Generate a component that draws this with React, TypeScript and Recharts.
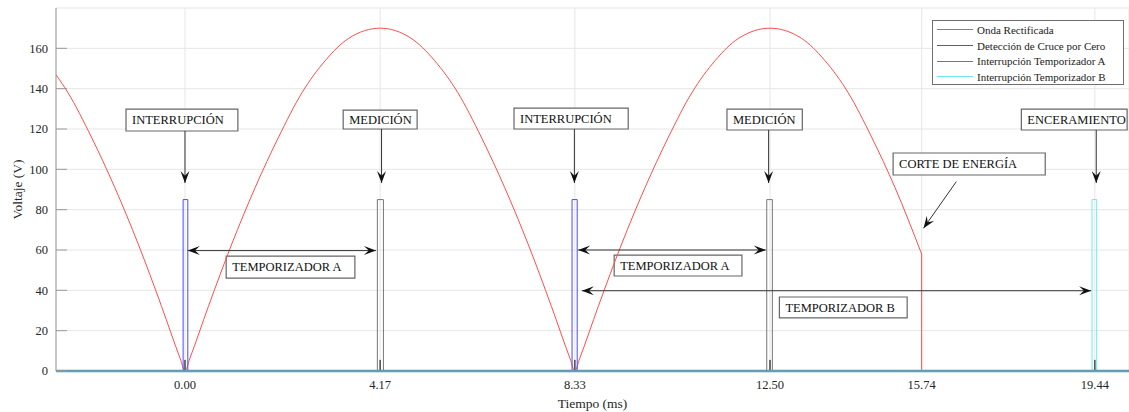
import { LineChart, Line, XAxis, YAxis, CartesianGrid, ReferenceArea, ReferenceLine, Legend } from "recharts";

const FONT = '"Liberation Serif", "Times New Roman", serif';

// Onda rectificada: tiempo (ms) / voltaje (V)
const waveTime = [
  -2.76, -2.5, -2.0, -1.5, -1.0, -0.5, -0.1, 0, 0.1, 0.5, 1.0, 1.5, 2.0, 2.5, 3.0, 3.5, 4.17,
  4.83, 5.33, 5.83, 6.33, 6.83, 7.33, 7.83, 8.23, 8.33, 8.43, 8.83, 9.33, 9.83, 10.33, 10.83,
  11.33, 11.83, 12.5, 13.17, 13.67, 14.17, 14.67, 15.17, 15.74,
];
const waveVolt = [
  147, 138, 116, 91, 63, 32, 6, 0, 6, 32, 63, 91, 116, 138, 154, 165, 170,
  165, 154, 138, 116, 91, 63, 32, 6, 0, 6, 32, 63, 91, 116, 138,
  154, 165, 170, 165, 154, 138, 116, 91, 58,
];

// corte de energía: caída a cero
const cutTime = [15.74, 15.74, 20.17];
const cutVolt = [58, 0, 0];

// Detección de cruce por cero
const zeroCrossTime = [-2.76, -0.04, -0.04, 0.06, 0.06, 8.27, 8.27, 8.38, 8.38, 20.17];
const zeroCrossVolt = [0, 0, 85, 85, 0, 0, 85, 85, 0, 0];

// Interrupción temporizador A
const timerATime = [-2.76, 4.11, 4.11, 4.24, 4.24, 12.43, 12.43, 12.55, 12.55, 20.17];
const timerAVolt = [0, 0, 85, 85, 0, 0, 85, 85, 0, 0];

// Interrupción temporizador B
const timerBTime = [-2.76, 19.38, 19.38, 19.48, 19.48, 20.17];
const timerBVolt = [0, 0, 85, 85, 0, 0];

// marcas cortas en la base
const markTime = [-2.76, 0, 0, 0, 4.17, 4.17, 4.17, 8.33, 8.33, 8.33, 12.5, 12.5, 12.5, 19.44, 19.44, 19.44, 20.17];
const markVolt = [0, 0, 5.5, 0, 0, 5.5, 0, 0, 5.5, 0, 0, 5.5, 0, 0, 5.5, 0, 0];

const xTicks = [0, 4.17, 8.33, 12.5, 15.74, 19.44];
const yTicks = [0, 20, 40, 60, 80, 100, 120, 140, 160];

const legendNames = ["Onda Rectificada", "Detección de Cruce por Cero", "Interrupción Temporizador A", "Interrupción Temporizador B"];
const legendColors = ["#ff4d4d", "#4a4aff", "#777", "#6ee8f0"];

// cuadros de texto (t1, t2, v1, v2)
const boxLabels = ["INTERRUPCIÓN", "MEDICIÓN", "TEMPORIZADOR A", "INTERRUPCIÓN", "MEDICIÓN", "TEMPORIZADOR A", "TEMPORIZADOR B", "CORTE DE ENERGÍA", "ENCERAMIENTO"];
const boxT1 = [-1.26, 3.38, 0.88, 7.03, 11.58, 9.17, 12.7, 15.13, 17.87];
const boxT2 = [1.13, 4.96, 3.63, 9.47, 13.19, 11.9, 15.43, 18.38, 20.13];
const boxV1 = [119.0, 120.0, 46.1, 120.0, 119.5, 47.1, 26.3, 97.2, 119.5];
const boxV2 = [129.9, 129.4, 57.0, 130.4, 129.9, 57.5, 36.7, 108.1, 129.9];

// flechas (inicio -> punta)
const arrowT1 = [0.0, 4.2, 0.06, 8.32, 12.47, 8.4, 8.48, 16.48, 19.47];
const arrowV1 = [119.0, 120.0, 59.7, 120.0, 119.5, 60.0, 39.8, 93.9, 119.5];
const arrowT2 = [0.0, 4.2, 4.08, 8.32, 12.47, 12.41, 19.36, 15.78, 19.47];
const arrowV2 = [93.2, 93.2, 59.7, 93.2, 93.2, 60.0, 39.8, 70.8, 93.2];
const arrowBoth = [false, false, true, false, false, true, true, false, false];

const toData = (ts: number[], vs: number[]) => ts.map((t, i) => ({ t, v: vs[i] }));
const waveData = toData(waveTime, waveVolt);
const cutData = toData(cutTime, cutVolt);
const zeroCrossData = toData(zeroCrossTime, zeroCrossVolt);
const timerAData = toData(timerATime, timerAVolt);
const timerBData = toData(timerBTime, timerBVolt);
const markData = toData(markTime, markVolt);

const head = (tx: number, ty: number, fx: number, fy: number) => {
  const len = Math.hypot(tx - fx, ty - fy) || 1;
  const ux = (tx - fx) / len;
  const uy = (ty - fy) / len;
  const L = 12;
  const W = 4.5;
  const bx = tx - ux * L;
  const by = ty - uy * L;
  const nx = tx - ux * L * 0.6;
  const ny = ty - uy * L * 0.6;
  return `M${tx},${ty} L${bx - uy * W},${by + ux * W} L${nx},${ny} L${bx + uy * W},${by - ux * W} Z`;
};

const Arrow = (props: any) => {
  const { x1, y1, x2, y2, both } = props;
  return (
    <g>
      <line x1={x1} y1={y1} x2={x2} y2={y2} stroke="#333" strokeWidth={1} />
      <path d={head(x2, y2, x1, y1)} fill="#111" />
      {both && <path d={head(x1, y1, x2, y2)} fill="#111" />}
    </g>
  );
};

const LegendBox = () => (
  <div
    style={{
      boxSizing: "border-box",
      width: 192,
      height: 65,
      border: "1px solid #6f6f6f",
      background: "#fff",
      padding: "1px 4px",
      fontFamily: FONT,
      fontSize: 11,
      color: "#222",
    }}
  >
    {legendNames.map((name, i) => (
      <div key={name} style={{ display: "flex", alignItems: "center", height: 15.7 }}>
        <span style={{ display: "inline-block", width: 36, borderTop: `1px solid ${legendColors[i]}`, marginRight: 4 }} />
        <span>{name}</span>
      </div>
    ))}
  </div>
);

export default function App() {
  return (
    <div style={{ position: "absolute", left: 0, top: 0, background: "#fff", fontFamily: FONT }}>
      <LineChart width={1129} height={412} margin={{ top: 8, right: 0, left: 0, bottom: 0 }}>
        <CartesianGrid stroke="#e6e6e6" />
        <XAxis
          type="number"
          dataKey="t"
          domain={[-2.756, 20.17]}
          allowDataOverflow
          ticks={xTicks}
          interval={0}
          tickFormatter={(v: number) => v.toFixed(2)}
          height={41}
          tickSize={0}
          tickMargin={9}
          axisLine={{ stroke: "#999" }}
          tick={{ fontSize: 12.5, fill: "#262626" }}
          label={{ value: "Tiempo (ms)", position: "insideBottom", offset: 4, fontSize: 13.5, fill: "#262626" }}
        />
        <YAxis
          type="number"
          domain={[0, 180]}
          allowDataOverflow
          ticks={yTicks}
          interval={0}
          width={56}
          tickSize={-11}
          tickMargin={19}
          axisLine={{ stroke: "#999" }}
          tickLine={{ stroke: "#999" }}
          tick={{ fontSize: 12.5, fill: "#262626" }}
          label={{
            value: "Voltaje (V)",
            angle: -90,
            position: "insideLeft",
            offset: 17,
            fontSize: 13.5,
            fill: "#262626",
            style: { textAnchor: "middle" },
          }}
        />
        <Legend
          layout="vertical"
          align="center"
          verticalAlign="middle"
          wrapperStyle={{ top: 20, left: 932, width: 192 }}
          content={() => <LegendBox />}
        />
        <Line data={waveData} dataKey="v" name={legendNames[0]} type="monotone" stroke={legendColors[0]} strokeWidth={1} dot={false} activeDot={false} isAnimationActive={false} />
        <Line data={cutData} dataKey="v" name="corte" legendType="none" type="linear" stroke={legendColors[0]} strokeWidth={1} dot={false} activeDot={false} isAnimationActive={false} />
        <Line data={zeroCrossData} dataKey="v" name={legendNames[1]} type="linear" stroke={legendColors[1]} strokeWidth={1} dot={false} activeDot={false} isAnimationActive={false} />
        <Line data={timerAData} dataKey="v" name={legendNames[2]} type="linear" stroke={legendColors[2]} strokeWidth={1} dot={false} activeDot={false} isAnimationActive={false} />
        <Line data={timerBData} dataKey="v" name={legendNames[3]} type="linear" stroke={legendColors[3]} strokeWidth={1} dot={false} activeDot={false} isAnimationActive={false} />
        <Line data={markData} dataKey="v" name="marcas" legendType="none" type="linear" stroke="#444" strokeWidth={1} dot={false} activeDot={false} isAnimationActive={false} />
        <ReferenceLine y={0} stroke="#35a0c6" strokeWidth={2.5} ifOverflow="visible" />
        {boxLabels.map((lab, i) => (
          <ReferenceArea
            key={"b" + i}
            x1={boxT1[i]}
            x2={boxT2[i]}
            y1={boxV1[i]}
            y2={boxV2[i]}
            fill="#fff"
            fillOpacity={1}
            stroke="#666"
            strokeWidth={1.2}
            ifOverflow="visible"
            label={{ value: lab, position: "insideLeft", offset: 6, fontSize: 12.5, fill: "#111" }}
          />
        ))}
        {arrowT1.map((t, i) => (
          <ReferenceLine
            key={"a" + i}
            segment={[
              { x: t, y: arrowV1[i] },
              { x: arrowT2[i], y: arrowV2[i] },
            ]}
            ifOverflow="visible"
            shape={(p: any) => <Arrow {...p} both={arrowBoth[i]} />}
          />
        ))}
      </LineChart>
    </div>
  );
}
